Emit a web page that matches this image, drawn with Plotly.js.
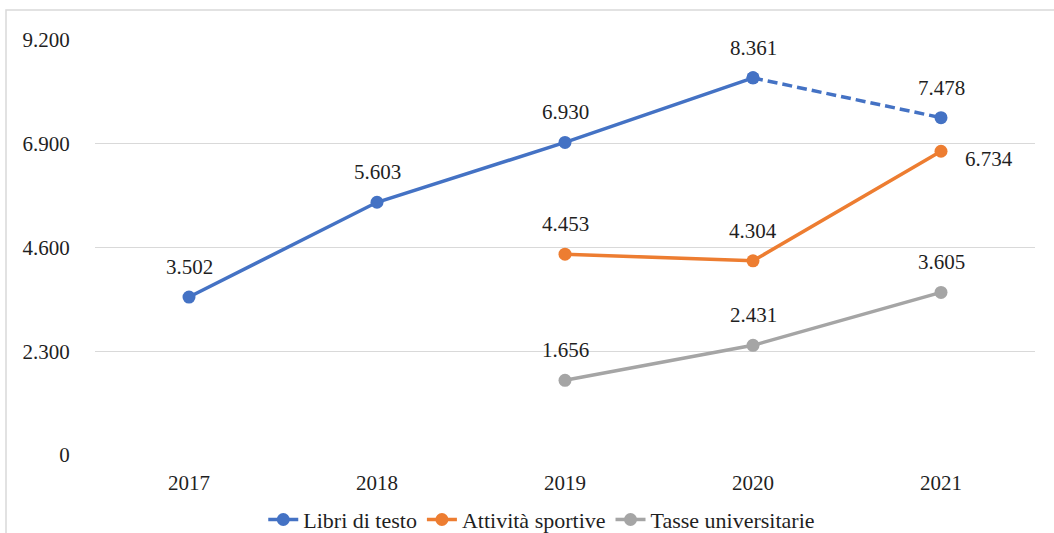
<!DOCTYPE html>
<html>
<head>
<meta charset="utf-8">
<script src="https://cdn.plot.ly/plotly-3.0.1.min.js"></script>
<style>
html,body{margin:0;padding:0;background:#fff;}
#chart{width:1054px;height:533px;}
</style>
</head>
<body>
<div id="chart"></div>
<script>
// ---- data ----
const years = ['2017', '2018', '2019', '2020', '2021'];
const libriSolidYears = ['2017', '2018', '2019', '2020'];
const libriSolid = [3502, 5603, 6930, 8361];
const libriDashYears = ['2020', '2021'];
const libriDash = [8361, 7478];
const sportYears = ['2019', '2020', '2021'];
const sport = [4453, 4304, 6734];
const tasseYears = ['2019', '2020', '2021'];
const tasse = [1656, 2431, 3605];
const yTicks = [0, 2300, 4600, 6900, 9200];
const seriesNames = ['Libri di testo', 'Attività sportive', 'Tasse universitarie'];

// ---- style ----
const BLUE = '#4472C4', ORANGE = '#ED7D31', GRAY = '#A5A5A5';
const FAMILY = '"Liberation Serif", "Times New Roman", Times, serif';
function F(sz) { return {family: FAMILY, size: sz || 21, color: '#1f1f1f'}; }
const LW = 3.5, MS = 13;

function fmt(v) {
  const s = String(Math.round(v));
  return s.replace(/\B(?=(\d{3})+(?!\d))/g, '.');
}
// position of a year on the category scale
const pos = ys => ys.map(y => years.indexOf(y));

const traces = [
  {x: pos(libriSolidYears), y: libriSolid, name: seriesNames[0], type: 'scatter', mode: 'lines+markers',
   line: {color: BLUE, width: LW}, marker: {color: BLUE, size: MS}},
  {x: pos(sportYears), y: sport, name: seriesNames[1], type: 'scatter', mode: 'lines+markers',
   line: {color: ORANGE, width: LW}, marker: {color: ORANGE, size: MS}},
  {x: pos(tasseYears), y: tasse, name: seriesNames[2], type: 'scatter', mode: 'lines+markers',
   line: {color: GRAY, width: LW}, marker: {color: GRAY, size: MS}},
  {x: pos(libriDashYears), y: libriDash, name: seriesNames[0], showlegend: false, type: 'scatter', mode: 'lines+markers',
   line: {color: BLUE, width: LW, dash: '10px,5px'}, marker: {color: BLUE, size: MS}}
];

// label annotations built from the data arrays
const annotations = [];
function addLabels(xs, ys, shifts) {
  pos(xs).forEach((x, i) => {
    const sh = shifts ? shifts(i) : [0, 30];
    annotations.push({x: x, y: ys[i], xref: 'x', yref: 'y', text: fmt(ys[i]), showarrow: false,
      xanchor: 'center', yanchor: 'middle', xshift: sh[0], yshift: sh[1], font: F()});
  });
}
addLabels(libriSolidYears, libriSolid);
addLabels(['2021'], [libriDash[1]]);
addLabels(sportYears, sport, i => i === 2 ? [48, -8] : [0, 30]);
addLabels(tasseYears, tasse);

const layout = {
  width: 1054, height: 533,
  margin: {l: 95, r: 19, t: 40, b: 78},
  paper_bgcolor: '#fff', plot_bgcolor: '#fff',
  font: F(),
  showlegend: true,
  xaxis: {type: 'linear', range: [-0.5, 4.5], tickvals: pos(years), ticktext: years,
    showgrid: false, zeroline: false, showline: false,
    ticks: 'outside', ticklen: 9, tickcolor: 'rgba(0,0,0,0)', tickfont: F(), fixedrange: true},
  yaxis: {type: 'linear', range: [0, 9200], tickvals: yTicks, ticktext: yTicks.map(fmt),
    showgrid: true, gridcolor: '#D9D9D9', gridwidth: 1.3, zeroline: false, showline: false,
    ticks: 'outside', ticklen: 20, tickcolor: 'rgba(0,0,0,0)', tickfont: F(), fixedrange: true},
  legend: {orientation: 'h', xref: 'container', yref: 'container', x: 0.514, xanchor: 'center', y: 0.025, yanchor: 'middle',
    font: F(22), tracegroupgap: 0, bgcolor: 'rgba(0,0,0,0)'},
  annotations: annotations,
  shapes: [{type: 'rect', xref: 'paper', yref: 'paper',
    x0: (6 - 95) / 940, x1: 1.5, y0: -1, y1: (455 - 10) / 415,
    line: {color: '#D9D9D9', width: 1.5}, fillcolor: 'rgba(0,0,0,0)', layer: 'below'}]
};

Plotly.newPlot('chart', traces, layout, {displayModeBar: false, staticPlot: true});
</script>
</body>
</html>
